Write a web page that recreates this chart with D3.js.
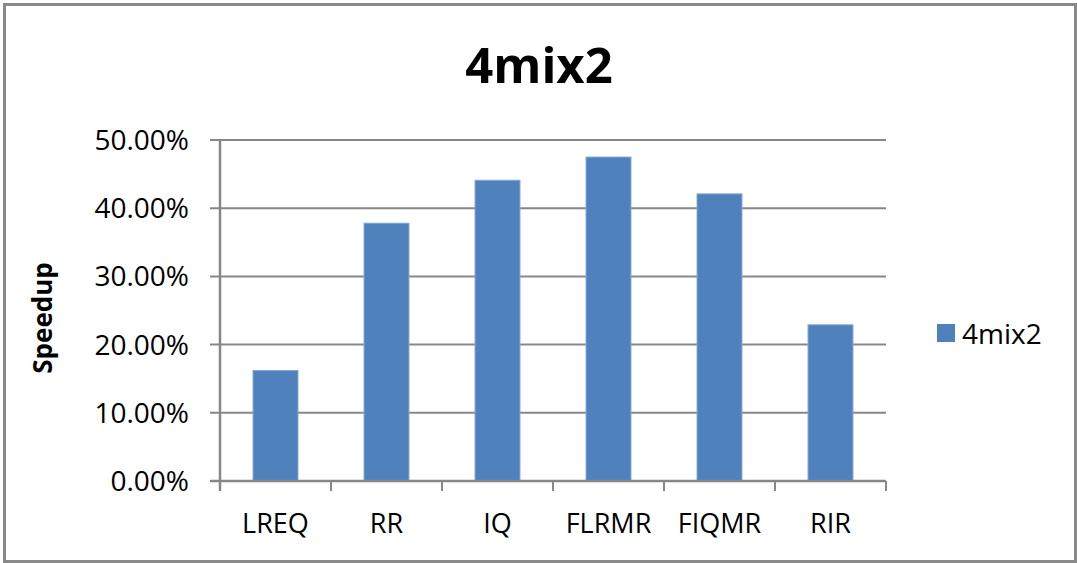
<!DOCTYPE html>
<html>
<head>
<meta charset="utf-8">
<script src="https://cdn.jsdelivr.net/npm/d3@7"></script>
<style>
  html, body { margin: 0; padding: 0; background: #fff; }
  svg text { font-family: "Open Sans", "Noto Sans", sans-serif; fill: #000; }
</style>
</head>
<body>
<svg id="chart" width="1077" height="563"></svg>
<script>
// Speedup per scheduling policy (fraction of baseline)
const categories = ["LREQ", "RR", "IQ", "FLRMR", "FIQMR", "RIR"];
const speedup = [0.162, 0.378, 0.441, 0.475, 0.421, 0.229];
const yTicks = [0, 0.1, 0.2, 0.3, 0.4, 0.5];
const seriesName = "4mix2";
const chartTitle = "4mix2";
const yLabel = "Speedup";

const svg = d3.select("#chart");
const W = 1077, H = 563;
const plot = { left: 220, right: 886, top: 140, bottom: 481 };
const gridColor = "#878787";

// outer frame
svg.append("rect")
  .attr("x", 4.5).attr("y", 4.5)
  .attr("width", W - 6).attr("height", H - 6)
  .attr("fill", "#fff")
  .attr("stroke", "#898989").attr("stroke-width", 3);

const x = d3.scaleBand()
  .domain(categories)
  .range([plot.left, plot.right])
  .paddingInner(0.595)
  .paddingOuter(0.2975);

const y = d3.scaleLinear()
  .domain([0, 0.5])
  .range([plot.bottom, plot.top]);

// horizontal gridlines with left tick marks
svg.append("g")
  .selectAll("line")
  .data(yTicks.filter(d => d > 0))
  .join("line")
  .attr("x1", plot.left - 10).attr("x2", plot.right)
  .attr("y1", d => y(d)).attr("y2", d => y(d))
  .attr("stroke", gridColor).attr("stroke-width", 2);

// y axis labels
svg.append("g")
  .selectAll("text")
  .data(yTicks)
  .join("text")
  .attr("x", 189)
  .attr("y", d => y(d) + 10)
  .attr("text-anchor", "end")
  .attr("font-size", 28)
  .text(d => d3.format(".2%")(d));

// bars
svg.append("g")
  .selectAll("rect")
  .data(categories.map((c, i) => ({ c, v: speedup[i] })))
  .join("rect")
  .attr("x", d => x(d.c))
  .attr("y", d => y(d.v))
  .attr("width", x.bandwidth())
  .attr("height", d => y(0) - y(d.v))
  .attr("fill", "#4f81bd")
  .attr("stroke", "#86a8d3")
  .attr("stroke-width", 1);

// y axis line
svg.append("line")
  .attr("x1", plot.left).attr("x2", plot.left)
  .attr("y1", plot.top).attr("y2", plot.bottom + 10)
  .attr("stroke", gridColor).attr("stroke-width", 2.5);

// x axis line and category boundary ticks
svg.append("line")
  .attr("x1", plot.left - 10).attr("x2", plot.right)
  .attr("y1", plot.bottom).attr("y2", plot.bottom)
  .attr("stroke", gridColor).attr("stroke-width", 2.5);

const step = x.step();
const boundaries = d3.range(categories.length + 1).map(i => plot.left + i * step);
svg.append("g")
  .selectAll("line")
  .data(boundaries)
  .join("line")
  .attr("x1", d => d).attr("x2", d => d)
  .attr("y1", plot.bottom).attr("y2", plot.bottom + 10)
  .attr("stroke", gridColor).attr("stroke-width", 2);

// category labels
svg.append("g")
  .selectAll("text")
  .data(categories)
  .join("text")
  .attr("x", d => x(d) + x.bandwidth() / 2)
  .attr("y", 533)
  .attr("text-anchor", "middle")
  .attr("font-size", 27)
  .text(d => d);

// title
svg.append("text")
  .attr("x", 539).attr("y", 83)
  .attr("text-anchor", "middle")
  .attr("font-size", 49)
  .attr("font-weight", "bold")
  .text(chartTitle);

// y axis title
svg.append("text")
  .attr("transform", "translate(52,318) rotate(-90)")
  .attr("text-anchor", "middle")
  .attr("font-size", 26)
  .attr("font-weight", "bold")
  .text(yLabel);

// legend
const legend = svg.append("g");
legend.append("rect")
  .attr("x", 937).attr("y", 324)
  .attr("width", 18).attr("height", 18)
  .attr("fill", "#4f81bd");
legend.append("text")
  .attr("x", 962).attr("y", 344)
  .attr("font-size", 28)
  .text(seriesName);
</script>
</body>
</html>
